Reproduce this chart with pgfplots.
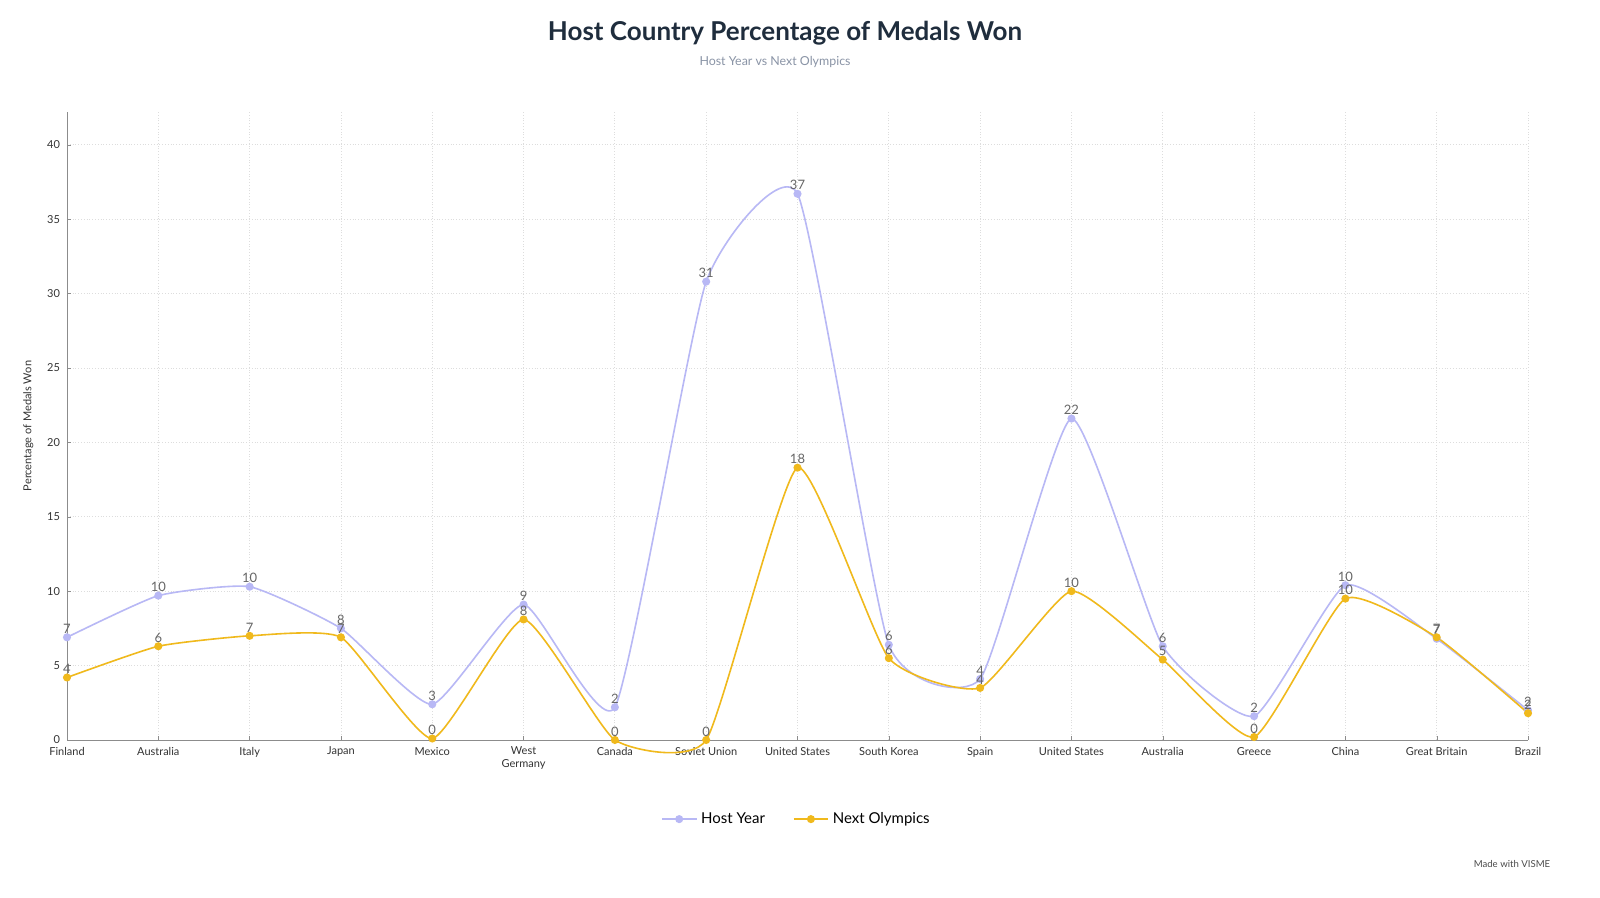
\documentclass[border=0pt]{standalone}
\usepackage{pgfplots}
\pgfplotsset{compat=1.18}
\usepackage{fontspec}
\setmainfont{Lato}
\definecolor{hostc}{HTML}{B8B8F5}
\definecolor{nextc}{HTML}{F0B91C}
\definecolor{titlec}{HTML}{1F2D3D}
\definecolor{subc}{HTML}{8A94A6}
\definecolor{gridc}{HTML}{DDDDDD}
\begin{document}
\begin{tikzpicture}
\useasboundingbox[fill=white] (0,0) rectangle (800pt,449pt);
\node[font=\bfseries\fontsize{13pt}{15pt}\selectfont,text=titlec] at (392.5pt,432.5pt) {Host Country Percentage of Medals Won};
\node[font=\fontsize{6.2pt}{7pt}\selectfont,text=subc] at (387.5pt,418pt) {Host Year vs Next Olympics};
\node[font=\fontsize{4.8pt}{6pt}\selectfont,text=black!70] at (756pt,17pt) {Made with VISME};
\begin{axis}[at={(33.5pt,79pt)},anchor=south west,scale only axis,width=730.5pt,height=314pt,
 xmin=0,xmax=16,ymin=0,ymax=42.2,
 xtick={0,...,16},
 xticklabels={Finland,Australia,Italy,Japan,Mexico,{West\\Germany},Canada,Soviet Union,United States,South Korea,Spain,United States,Australia,Greece,China,Great Britain,Brazil},
 xticklabel style={align=center,font=\fontsize{5.5pt}{6.5pt}\selectfont,text=black!80},
 ytick={0,5,...,40},
 yticklabel style={font=\fontsize{5.5pt}{6.5pt}\selectfont,text=black!80},
 /pgf/number format/assume math mode=true,
 axis lines*=left, axis line style={black!45},
 major tick length=2pt, tick style={black!45},
 grid=major, grid style={gridc,densely dotted},
 xlabel={Host Country}, ylabel={Percentage of Medals Won},
 xlabel style={font=\fontsize{5.5pt}{6.5pt}\selectfont,text=black!80,at={(0.5,-0.12)}},
 ylabel style={font=\fontsize{5.5pt}{6.5pt}\selectfont,text=black!80},
 clip=false,
 legend columns=2,
 legend style={at={(0.5,-0.126)},anchor=center,draw=none,font=\fontsize{7.5pt}{9pt}\selectfont,/tikz/every even column/.append style={column sep=12pt}},
 nodes near coords={\pgfmathprintnumber[fixed,precision=0]{\pgfplotspointmeta}},
 nodes near coords style={font=\fontsize{6.5pt}{7pt}\selectfont,text=black!60,inner sep=1.5pt},
 point meta=explicit,
]
\addplot[hostc,thick,smooth,tension=0.3,mark=*,mark size=1.6pt] table[meta=m]{
x y m
0 6.9 7
1 9.7 10
2 10.3 10
3 7.5 8
4 2.4 3
5 9.1 9
6 2.2 2
7 30.8 31
8 36.7 37
9 6.4 6
10 4.1 4
11 21.6 22
12 6.3 6
13 1.6 2
14 10.4 10
15 6.8 7
16 2.0 2
};
\addlegendentry{Host Year}
\addplot[nextc,thick,smooth,tension=0.3,mark=*,mark size=1.6pt] table[meta=m]{
x y m
0 4.2 4
1 6.3 6
2 7.0 7
3 6.9 7
4 0.1 0
5 8.1 8
6 0 0
7 0 0
8 18.3 18
9 5.5 6
10 3.5 4
11 10.0 10
12 5.4 5
13 0.2 0
14 9.5 10
15 6.9 7
16 1.8 2
};
\addlegendentry{Next Olympics}
\end{axis}
\end{tikzpicture}
\end{document}
